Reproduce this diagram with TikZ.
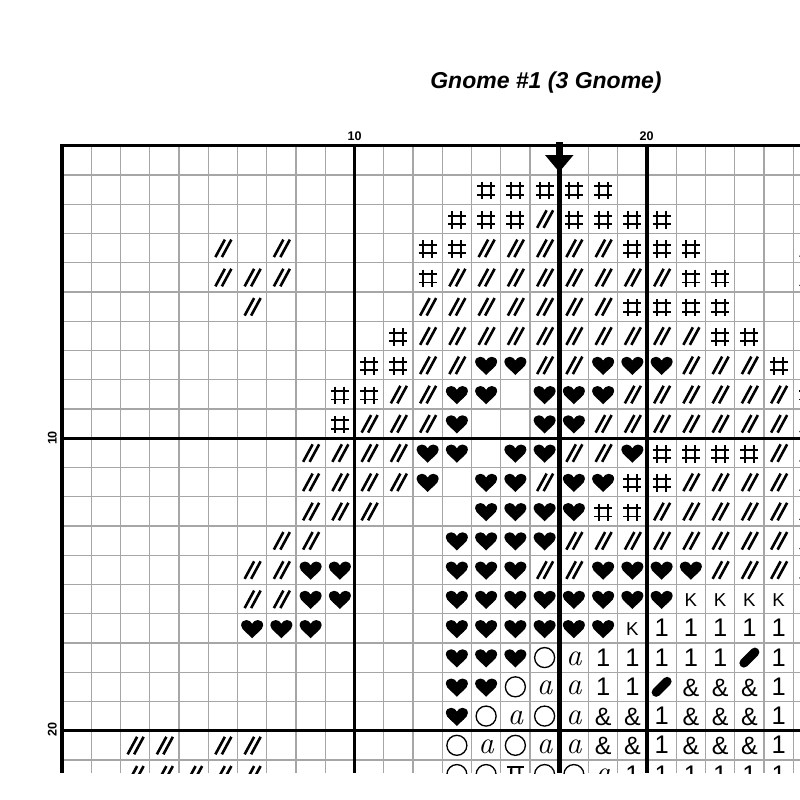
\documentclass[tikz,border=0pt]{standalone}
\usepackage{fontspec}
\newfontfamily\arial{Liberation Sans}
\tikzset{
  gridthin/.style={draw=gray!70, line width=0.9pt},
  gridthick/.style={draw=black, line width=2.5pt},
  centerline/.style={draw=black, line width=3.4pt},
  symtext/.style={anchor=base, inner sep=0pt, outer sep=0pt},
  sl/.pic={\draw[line width=1.95pt] (-7.5,9) -- (2,-8.5) (-1,9) -- (8.5,-8.5);},
  hsh/.pic={\draw[line width=1.35pt] (-4.5,-7.7) -- (-4.5,9.7) (4.5,-7.7) -- (4.5,9.7)
      (-9,-3.2) -- (9,-3.2) (-9,5.2) -- (9,5.2);},
  hrt/.pic={\fill (0,10) .. controls (-3,6) and (-11,1.5) .. (-11,-3)
      .. controls (-11,-6.5) and (-8.5,-8.3) .. (-5.7,-8.3)
      .. controls (-3,-8.3) and (-1,-6.5) .. (0,-4.5)
      .. controls (1,-6.5) and (3,-8.3) .. (5.7,-8.3)
      .. controls (8.5,-8.3) and (11,-6.5) .. (11,-3)
      .. controls (11,1.5) and (3,6) .. (0,10) -- cycle;},
  crc/.pic={\draw[line width=1pt] (0,0) circle (10);},
  pill/.pic={\draw[line width=6.75pt, line cap=round] (-5.5,5.5) -- (5.5,-5.5);},
  pii/.pic={\draw[line width=1.8pt] (-8.5,-7.6) -- (8.5,-7.6);
      \draw[line width=1.6pt] (-4,-7.6) -- (-4.5,9) (4,-7.6) -- (4,9);},
  one/.pic={\node[symtext, font=\arial\fontsize{19.1}{20}\selectfont] at (0,8.5) {1};},
  amp/.pic={\node[symtext, font=\arial\fontsize{18.75}{20}\selectfont] at (0,9.5) {\&};},
  kk/.pic={\node[symtext, font=\arial\fontsize{14}{16}\selectfont] at (0,7.6) {K};},
  aa/.pic={\node[symtext, font=\fontsize{23.25}{24}\selectfont\itshape] at (0,8) {a};},
}
\newcommand\symrow[3]{\foreach \c in {#3} {\pic at ({76.625+29.25*\c},{160.325+29.25*#2}) {#1};}}
\begin{document}
\begin{tikzpicture}[x=0.75pt,y=-0.75pt]
\useasboundingbox (0,0) rectangle (800,800);
\begin{scope}
\clip (0,0) rectangle (800,773);
% thin grid
\foreach \i in {1,...,25} \draw[gridthin] ({62+29.25*\i},145.7) -- ({62+29.25*\i},773);
\foreach \j in {1,...,21} \draw[gridthin] (62,{145.7+29.25*\j}) -- (800,{145.7+29.25*\j});
% symbols
\symrow{hsh}{1}{14,15,16,17,18}
\symrow{hsh}{2}{13,14,15,17,18,19,20}
\symrow{sl}{2}{16}
\symrow{sl}{3}{5,7,14,15,16,17,18,25}
\symrow{hsh}{3}{12,13,19,20,21}
\symrow{sl}{4}{5,6,7,13,14,15,16,17,18,19,20,25}
\symrow{hsh}{4}{12,21,22}
\symrow{sl}{5}{6,12,13,14,15,16,17,18}
\symrow{hsh}{5}{19,20,21,22}
\symrow{hsh}{6}{11,22,23}
\symrow{sl}{6}{12,13,14,15,16,17,18,19,20,21}
\symrow{hsh}{7}{10,11,24}
\symrow{sl}{7}{12,13,16,17,21,22,23}
\symrow{hrt}{7}{14,15,18,19,20}
\symrow{hsh}{8}{9,10,25}
\symrow{sl}{8}{11,12,19,20,21,22,23,24}
\symrow{hrt}{8}{13,14,16,17,18}
\symrow{hsh}{9}{9}
\symrow{sl}{9}{10,11,12,18,19,20,21,22,23,24,25}
\symrow{hrt}{9}{13,16,17}
\symrow{sl}{10}{8,9,10,11,17,18,24,25}
\symrow{hrt}{10}{12,13,15,16,19}
\symrow{hsh}{10}{20,21,22,23}
\symrow{sl}{11}{8,9,10,11,16,21,22,23,24,25}
\symrow{hrt}{11}{12,14,15,17,18}
\symrow{hsh}{11}{19,20}
\symrow{sl}{12}{8,9,10,20,21,22,23,24,25}
\symrow{hrt}{12}{14,15,16,17}
\symrow{hsh}{12}{18,19}
\symrow{sl}{13}{7,8,17,18,19,20,21,22,23,24,25}
\symrow{hrt}{13}{13,14,15,16}
\symrow{sl}{14}{6,7,16,17,22,23,24,25}
\symrow{hrt}{14}{8,9,13,14,15,18,19,20,21}
\symrow{sl}{15}{6,7}
\symrow{hrt}{15}{8,9,13,14,15,16,17,18,19,20}
\symrow{kk}{15}{21,22,23,24}
\symrow{aa}{15}{25}
\symrow{hrt}{16}{6,7,8,13,14,15,16,17,18}
\symrow{kk}{16}{19}
\symrow{one}{16}{20,21,22,23,24}
\symrow{hrt}{17}{13,14,15}
\symrow{crc}{17}{16}
\symrow{aa}{17}{17}
\symrow{one}{17}{18,19,20,21,22,24}
\symrow{pill}{17}{23}
\symrow{hrt}{18}{13,14}
\symrow{crc}{18}{15}
\symrow{aa}{18}{16,17}
\symrow{one}{18}{18,19,24}
\symrow{pill}{18}{20}
\symrow{amp}{18}{21,22,23}
\symrow{hrt}{19}{13}
\symrow{crc}{19}{14,16}
\symrow{aa}{19}{15,17}
\symrow{amp}{19}{18,19,21,22,23,25}
\symrow{one}{19}{20,24}
\symrow{sl}{20}{2,3,5,6}
\symrow{crc}{20}{13,15}
\symrow{aa}{20}{14,16,17}
\symrow{amp}{20}{18,19,21,22,23,25}
\symrow{one}{20}{20,24}
\symrow{sl}{21}{2,3,4,5,6}
\symrow{crc}{21}{13,14,16,17}
\symrow{pii}{21}{15}
\symrow{aa}{21}{18}
\symrow{one}{21}{19,20,21,22,23,24}
% thick lines
\draw[gridthick] (354.5,145.7) -- (354.5,773);
\draw[gridthick] (647,145.7) -- (647,773);
\draw[gridthick] (62,438.2) -- (800,438.2);
\draw[gridthick] (62,730.7) -- (800,730.7);
\draw[centerline] (559.25,145.7) -- (559.25,773);
\draw[gridthick, line join=miter] (62,773) -- (62,145.7) -- (800,145.7);
\end{scope}
% centre arrow
\fill (555.9,141.7) rectangle (562.6,156);
\fill (545,155) -- (573.5,155) -- (559.25,172) -- cycle;
% labels
\node[symtext, font=\arial\bfseries\fontsize{9.4}{11}\selectfont] (t10) at (354.7,140.5) {10};
\node[symtext, font=\arial\bfseries\fontsize{9.4}{11}\selectfont] (t20) at (646.7,140.5) {20};
\node[symtext, rotate=90, font=\arial\bfseries\fontsize{9.4}{11}\selectfont] (l10) at (56.5,438) {10};
\node[symtext, rotate=90, font=\arial\bfseries\fontsize{9.4}{11}\selectfont] (l20) at (56.5,729.5) {20};
% title
\node[symtext, font=\arial\bfseries\itshape\fontsize{17.25}{20}\selectfont] (title) at (546,88.3) {Gnome \#1 (3 Gnome)};
\end{tikzpicture}
\end{document}
